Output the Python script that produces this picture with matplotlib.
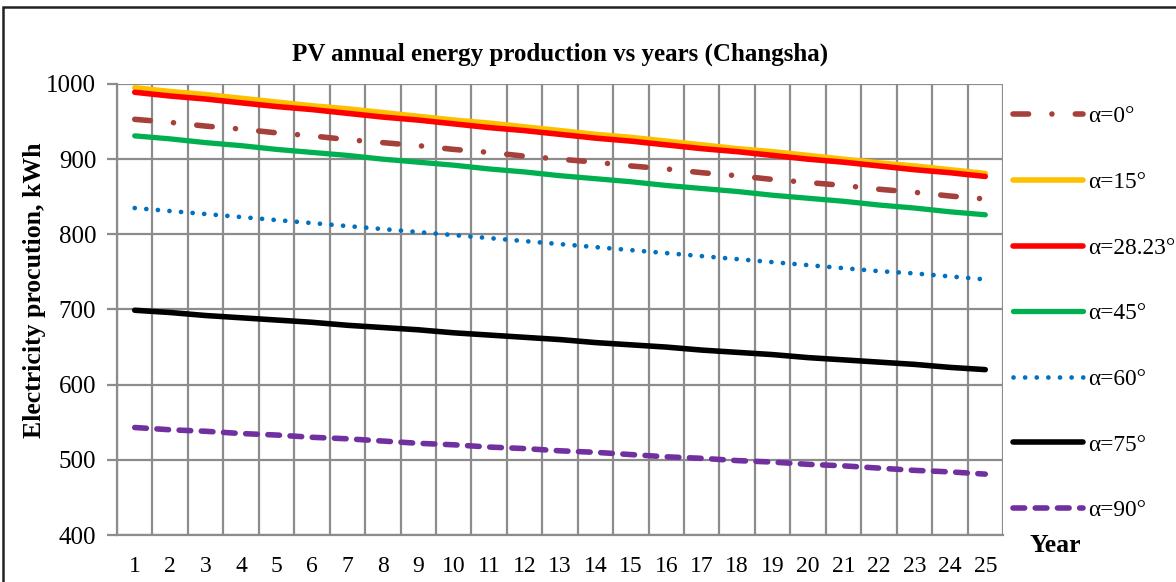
import matplotlib
matplotlib.use("Agg")
import matplotlib.pyplot as plt
from matplotlib.patches import Rectangle

plt.rcParams['font.family'] = ['Liberation Serif', 'DejaVu Serif']

years = list(range(1, 26))
labels = ["\u03b1=0\u00b0", "\u03b1=15\u00b0", "\u03b1=28.23\u00b0", "\u03b1=45\u00b0",
          "\u03b1=60\u00b0", "\u03b1=75\u00b0", "\u03b1=90\u00b0"]
a0 = [953, 949, 944, 940, 935, 931, 926, 922, 918, 913, 909, 904, 900, 896, 891,
      887, 882, 878, 873, 869, 865, 860, 856, 851, 847]
a15 = [995, 990, 986, 981, 976, 971, 967, 962, 957, 952, 948, 943, 938, 933, 929,
       924, 919, 914, 910, 905, 900, 895, 891, 886, 881]
a28 = [989, 984, 980, 975, 970, 966, 961, 956, 952, 947, 942, 938, 933, 928, 924,
       919, 914, 910, 905, 900, 896, 891, 886, 882, 877]
a45 = [931, 927, 922, 918, 913, 909, 905, 900, 896, 892, 887, 883, 878, 874, 870,
       865, 861, 857, 852, 848, 844, 839, 835, 830, 826]
a60 = [835, 831, 827, 823, 819, 815, 811, 807, 803, 799, 795, 791, 787, 783, 779,
       775, 771, 767, 763, 759, 755, 751, 748, 744, 740]
a75 = [699, 696, 692, 689, 686, 683, 679, 676, 673, 669, 666, 663, 660, 656, 653,
       650, 646, 643, 640, 636, 633, 630, 627, 623, 620]
a90 = [543, 540, 538, 535, 533, 530, 528, 525, 522, 520, 517, 515, 512, 510, 507,
       504, 502, 499, 497, 494, 492, 489, 486, 484, 481]
series = [a0, a15, a28, a45, a60, a75, a90]
colors = ["#A5403B", "#FFC000", "#FF0000", "#00B050", "#0070C0", "#000000", "#7030A0"]
styles = [(0, (2.8, 4.2, 0.01, 4.2)), '-', '-', '-', (0, (0.01, 2.45)), '-', (0, (2.1, 1.9))]
widths = [4.0, 4.0, 4.0, 3.8, 3.4, 4.0, 4.0]

fig = plt.figure(figsize=(11.76, 5.82), dpi=100)
ax = fig.add_axes([117/1176, 1-535/582, (1003-117)/1176, (535-84)/582])

for ys, lab, c, ls, lw in zip(series, labels, colors, styles, widths):
    ax.plot(years, ys, color=c, linestyle=ls, linewidth=lw, label=lab,
            solid_capstyle='round', dash_capstyle='round')

ax.set_xlim(0.5, 25.5)
ax.set_ylim(400, 1000)
ax.set_yticks(range(400, 1001, 100))
ax.set_xticks(years)
ax.set_xticks([y + 0.5 for y in range(0, 26)], minor=True)
ax.grid(True, which='minor', axis='x', color='#8c8c8c', linewidth=1.6)
ax.grid(True, which='major', axis='y', color='#8c8c8c', linewidth=1.6)
ax.set_axisbelow(True)
for s in ['top', 'right']:
    ax.spines[s].set_visible(False)
for s in ['left', 'bottom']:
    ax.spines[s].set_color('#8c8c8c')
    ax.spines[s].set_linewidth(1.6)
ax.tick_params(axis='x', which='both', length=0, pad=15, labelsize=17)
ax.tick_params(axis='y', length=7, width=1.6, color='#8c8c8c', pad=8, labelsize=18)

ax.set_title("PV annual energy production vs years (Changsha)", fontsize=18,
             fontweight='bold', pad=17)
fig.text(35/1176, 1-290/582, "Electricity procution, kWh", rotation=90,
         ha='center', va='center', fontsize=18.5, fontweight='bold')
fig.text(1055/1176, 1-546/582, "Year", ha='center', va='center', fontsize=18.5,
         fontweight='bold')

fig.legend(loc='upper left', bbox_to_anchor=(1013/1176, 1-106/582), frameon=False,
           fontsize=16.8, handlelength=3.0, handletextpad=0.2, labelspacing=1.9,
           borderaxespad=0, borderpad=0)

fig.add_artist(Rectangle((3/1176, -0.1), 1.2, 1 - 7/582 + 0.1, transform=fig.transFigure,
                         fill=False, edgecolor='#222222', linewidth=1.8))

fig.savefig("out.png", dpi=100)
